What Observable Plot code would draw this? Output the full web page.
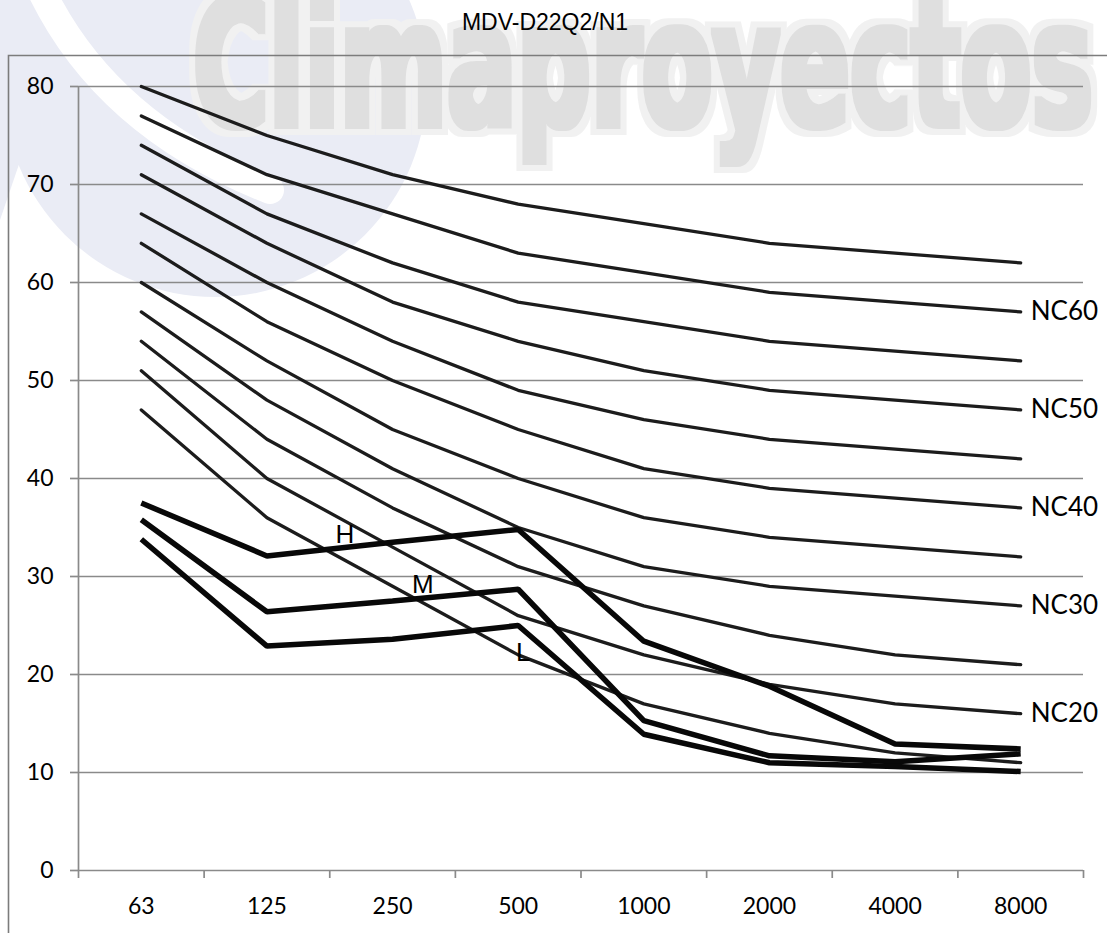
<!DOCTYPE html>
<html>
<head>
<meta charset="utf-8">
<script src="https://cdn.jsdelivr.net/npm/d3@7"></script>
<script src="https://cdn.jsdelivr.net/npm/@observablehq/plot@0.6"></script>
<style>
  html, body { margin: 0; padding: 0; background: #fff; }
  #wrap { position: relative; width: 1107px; height: 933px; overflow: hidden; }
  #deco { position: absolute; left: 0; top: 0; }
  #chart { position: absolute; left: 0; top: 0; }
</style>
</head>
<body>
<div id="wrap">
  <svg id="deco" width="1107" height="933" xmlns="http://www.w3.org/2000/svg">
    <defs>
      <filter id="wm" x="-5%" y="-30%" width="110%" height="160%">
        <feMorphology in="SourceAlpha" operator="dilate" radius="9" result="halo"></feMorphology>
        <feFlood flood-color="#f1f1f1" result="haloColor"></feFlood>
        <feComposite in="haloColor" in2="halo" operator="in" result="haloFill"></feComposite>
        <feMorphology in="SourceGraphic" operator="dilate" radius="2.5" result="thick"></feMorphology>
        <feMerge>
          <feMergeNode in="haloFill"></feMergeNode>
          <feMergeNode in="thick"></feMergeNode>
        </feMerge>
      </filter>
    </defs>
    <!-- faint logo watermark -->
    <circle cx="215" cy="85" r="212" fill="#eaecf5"></circle>
    <polygon points="0,0 75,0 0,220" fill="#eaecf5"></polygon>
    <path d="M40,-12 Q105,125 270,190" fill="none" stroke="#ffffff" stroke-width="28" stroke-linecap="round"></path>
    <text x="193" y="126" textLength="900" lengthAdjust="spacingAndGlyphs" filter="url(#wm)"
          font-family="'DejaVu Sans Condensed', 'DejaVu Sans', sans-serif" font-stretch="condensed"
          font-weight="bold" font-size="175" fill="#dfdfdf">Climaproyectos</text>
    <!-- chart area border (cropped) -->
    <path d="M8.5,940 V55.5 H1110" fill="none" stroke="#7c7c7c" stroke-width="1.6"></path>
    <text id="title" x="545" y="30" text-anchor="middle" font-family="'Liberation Sans', Arial, sans-serif"
          font-size="23" fill="#000">MDV-D22Q2/N1</text>
  </svg>
  <div id="chart"></div>
</div>
<script>
// ---- data ----
const freqs = ["63", "125", "250", "500", "1000", "2000", "4000", "8000"];
const yTicks = [0, 10, 20, 30, 40, 50, 60, 70, 80];

const ncNames = ["NC15", "NC20", "NC25", "NC30", "NC35", "NC40", "NC45", "NC50", "NC55", "NC60", "NC65"];
const nc15 = [47, 36, 29, 22, 17, 14, 12, 11];
const nc20 = [51, 40, 33, 26, 22, 19, 17, 16];
const nc25 = [54, 44, 37, 31, 27, 24, 22, 21];
const nc30 = [57, 48, 41, 35, 31, 29, 28, 27];
const nc35 = [60, 52, 45, 40, 36, 34, 33, 32];
const nc40 = [64, 56, 50, 45, 41, 39, 38, 37];
const nc45 = [67, 60, 54, 49, 46, 44, 43, 42];
const nc50 = [71, 64, 58, 54, 51, 49, 48, 47];
const nc55 = [74, 67, 62, 58, 56, 54, 53, 52];
const nc60 = [77, 71, 67, 63, 61, 59, 58, 57];
const nc65 = [80, 75, 71, 68, 66, 64, 63, 62];
const ncSeries = [nc15, nc20, nc25, nc30, nc35, nc40, nc45, nc50, nc55, nc60, nc65];
const ncLabelled = ["NC20", "NC30", "NC40", "NC50", "NC60"];

const unitNames = ["H", "M", "L"];
const hValues = [37.5, 32.1, 33.5, 34.8, 23.4, 18.8, 12.9, 12.4];
const mValues = [35.8, 26.4, 27.5, 28.7, 15.3, 11.7, 11.1, 11.9];
const lValues = [33.8, 22.9, 23.6, 25.0, 13.9, 11.0, 10.6, 10.1];
const unitSeries = [hValues, mValues, lValues];
// label anchor positions (category index, dB)
const unitLabelX = [1.62, 2.24, 3.04];
const unitLabelY = [34.3, 29.2, 22.2];

// ---- tables built from the arrays ----
const ncRows = [];
ncNames.forEach((name, k) => ncSeries[k].forEach((v, i) => ncRows.push({series: name, i, v})));
const unitRows = [];
unitNames.forEach((name, k) => unitSeries[k].forEach((v, i) => unitRows.push({series: name, i, v})));
const ncEnds = ncNames
  .map((name, k) => ({series: name, i: freqs.length - 1, v: ncSeries[k][freqs.length - 1]}))
  .filter(d => ncLabelled.includes(d.series));
const unitLabels = unitNames.map((name, k) => ({label: name, x: unitLabelX[k], y: unitLabelY[k]}));
const catCenters = freqs.map((f, i) => i);
const catBounds = freqs.map((f, i) => i - 0.5).concat([freqs.length - 0.5]);

const grid = "#8a8a8a";

const chart = Plot.plot({
  width: 1107,
  height: 933,
  marginLeft: 78,
  marginRight: 24,
  marginTop: 86,
  marginBottom: 63,
  style: {background: "transparent", overflow: "visible", fontFamily: "Lato, 'Open Sans', sans-serif"},
  x: {domain: [-0.5, freqs.length - 0.5], axis: null},
  y: {domain: [0, 80], axis: null},
  marks: [
    Plot.gridY(yTicks, {stroke: grid, strokeOpacity: 1, strokeWidth: 1.7}),
    Plot.ruleX([catBounds[0]], {stroke: grid, strokeWidth: 1.7}),
    Plot.axisY(yTicks, {anchor: "left", tickSize: 8, tickPadding: 17, fontSize: 23, stroke: grid, strokeWidth: 1.7, fill: "#000", fontFamily: "Lato"}),
    Plot.axisX(catBounds, {anchor: "bottom", tickSize: 8, tickFormat: () => "", stroke: grid, strokeWidth: 1.7}),
    Plot.axisX(catCenters, {anchor: "bottom", tickSize: 0, tickPadding: 27, tickFormat: i => freqs[i], fontSize: 23, fill: "#000", fontFamily: "Lato"}),
    Plot.line(ncRows, {x: "i", y: "v", z: "series", stroke: "#1c1c1c", strokeWidth: 3.3, strokeLinejoin: "round", strokeLinecap: "round"}),
    Plot.line(unitRows, {x: "i", y: "v", z: "series", stroke: "#080808", strokeWidth: 5.5, strokeLinejoin: "miter", strokeLinecap: "butt"}),
    Plot.text(ncEnds, {x: "i", y: "v", text: "series", textAnchor: "start", dx: 10, fontSize: 26, fontFamily: "Lato", fill: "#000"}),
    Plot.text(unitLabels, {x: "x", y: "y", text: "label", fontSize: 26, fontFamily: "'Liberation Sans', Arial, sans-serif", fill: "#000"})
  ]
});
document.getElementById("chart").appendChild(chart);
</script>
</body>
</html>
